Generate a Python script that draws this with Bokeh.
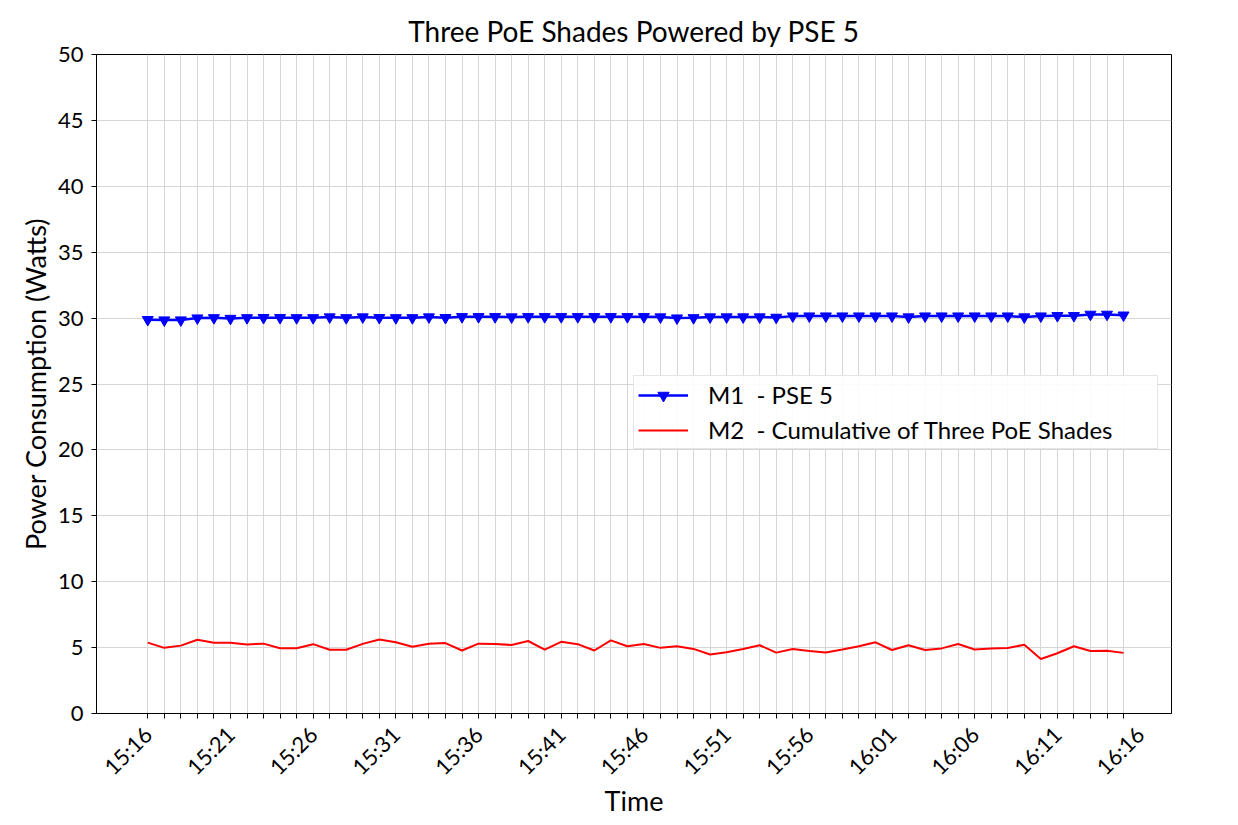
import math
from bokeh.plotting import figure
from bokeh.models import (Range1d, FixedTicker, Legend, LegendItem, Title)
from bokeh.embed import file_html
from bokeh.resources import INLINE

# ---- data ----
time_labels = ["15:16", "15:21", "15:26", "15:31", "15:36", "15:41", "15:46",
               "15:51", "15:56", "16:01", "16:06", "16:11", "16:16"]
minutes = list(range(60))

m1_pse5 = [29.88, 29.85, 29.85, 30.00, 30.02, 29.97, 30.02, 30.03, 30.03, 30.02,
           30.02, 30.08, 30.02, 30.08, 30.03, 30.02, 30.02, 30.08, 30.03, 30.10,
           30.10, 30.10, 30.08, 30.10, 30.10, 30.10, 30.10, 30.10, 30.10, 30.10,
           30.10, 30.08, 30.00, 30.02, 30.08, 30.08, 30.08, 30.08, 30.05, 30.15,
           30.15, 30.15, 30.15, 30.15, 30.15, 30.15, 30.08, 30.15, 30.15, 30.15,
           30.15, 30.15, 30.15, 30.08, 30.15, 30.18, 30.18, 30.28, 30.28, 30.22]

m2_shades = [5.38, 4.98, 5.15, 5.60, 5.36, 5.36, 5.24, 5.30, 4.95, 4.95,
             5.26, 4.84, 4.84, 5.28, 5.62, 5.40, 5.06, 5.30, 5.34, 4.78,
             5.30, 5.27, 5.20, 5.50, 4.84, 5.44, 5.26, 4.78, 5.55, 5.10,
             5.28, 4.98, 5.10, 4.90, 4.48, 4.65, 4.90, 5.18, 4.62, 4.90,
             4.74, 4.62, 4.85, 5.10, 5.40, 4.82, 5.18, 4.82, 4.94, 5.27,
             4.86, 4.94, 4.97, 5.22, 4.14, 4.57, 5.10, 4.74, 4.76, 4.60]

y_ticks = [0, 5, 10, 15, 20, 25, 30, 35, 40, 45, 50]

FONT = "Lato"

p = figure(frame_width=1075, frame_height=659,
           x_range=Range1d(-3.1, 61.9), y_range=Range1d(0, 50),
           output_backend="svg", toolbar_location=None,
           min_border_left=96, min_border_top=54, min_border_right=45,
           min_border_bottom=100, background_fill_color="white",
           border_fill_color="white")

p.title = Title(text="Three PoE Shades Powered by PSE 5", align="center",
                text_font=FONT, text_font_size="28px", text_font_style="normal",
                text_color="black", standoff=13, offset=-10)

# lines
r1 = p.line(minutes, m1_pse5, line_color="#0000ff", line_width=2.5)
r1m = p.scatter(minutes, m1_pse5, marker="inverted_triangle", size=11,
                fill_color="#0000ff", line_color="#0000ff")
r2 = p.line(minutes, m2_shades, line_color="#ff0000", line_width=2)

# x axis
label_pos = list(range(0, 61, 5))
p.xaxis.ticker = FixedTicker(ticks=label_pos, minor_ticks=minutes)
p.xaxis.major_label_overrides = {pos: lab for pos, lab in zip(label_pos, time_labels)}
p.xaxis.major_label_orientation = math.pi / 4
p.xaxis.major_tick_line_color = None
p.xaxis.minor_tick_in = 0
p.xaxis.minor_tick_out = 5
p.xaxis.minor_tick_line_color = "black"
p.xaxis.axis_label = "Time"

# y axis
p.yaxis.ticker = FixedTicker(ticks=y_ticks)
p.yaxis.minor_tick_line_color = None
p.yaxis.major_tick_in = 0
p.yaxis.major_tick_out = 5
p.yaxis.axis_label = "Power Consumption (Watts)"

for ax in (p.xaxis, p.yaxis):
    ax.axis_line_color = "black"
    ax.axis_line_width = 1
    ax.major_label_text_font = FONT
    ax.major_label_text_font_size = "22px"
    ax.major_label_text_color = "black"
    ax.axis_label_text_font = FONT
    ax.axis_label_text_font_size = "27px"
    ax.axis_label_text_font_style = "normal"
    ax.axis_label_text_color = "black"

p.xaxis.major_label_standoff = 11
p.xaxis.axis_label_standoff = -9
p.yaxis.major_label_standoff = 8
p.yaxis.axis_label_standoff = 3

# grid
p.xgrid.ticker = FixedTicker(ticks=minutes)
p.xgrid.grid_line_color = "#d6d6d6"
p.ygrid.ticker = FixedTicker(ticks=y_ticks)
p.ygrid.grid_line_color = "#d6d6d6"

p.outline_line_color = "black"
p.outline_line_width = 1

legend = Legend(items=[
    LegendItem(label="M1  - PSE 5", renderers=[r1, r1m]),
    LegendItem(label="M2  - Cumulative of Three PoE Shades", renderers=[r2]),
], location=(537, 264))
legend.label_text_font = FONT
legend.label_text_font_size = "24px"
legend.label_text_color = "black"
legend.border_line_color = "#cccccc"
legend.border_line_width = 1
legend.background_fill_alpha = 0.9
legend.glyph_width = 50
legend.glyph_height = 28
legend.label_height = 28
legend.label_width = 445
legend.spacing = 6
legend.padding = 4
legend.margin = 0
legend.label_standoff = 20
p.add_layout(legend, "center")

open("out.html", "w").write(file_html(p, INLINE))
